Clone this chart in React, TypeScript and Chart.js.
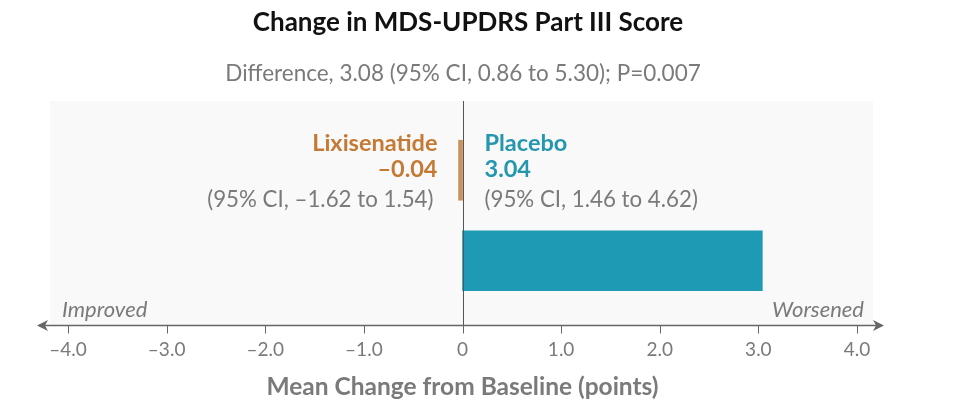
import React, { useEffect, useRef } from 'react';
import { Chart, registerables } from 'chart.js';

Chart.register(...registerables);

// ---- Data ----
const categories = ['Lixisenatide', 'Placebo'];
const meanChange = [-0.04, 3.04];
const ciLower = [-1.62, 1.46];
const ciUpper = [1.54, 4.62];
const tickValues = [-4, -3, -2, -1, 0, 1, 2, 3, 4];
const tickLabels = ['–4.0', '–3.0', '–2.0', '–1.0', '0', '1.0', '2.0', '3.0', '4.0'];
const differenceValue = 3.08;
const differenceCI = [0.86, 5.3];
const pValue = '0.007';

// ---- Styles ----
const FONT = 'Lato, "Open Sans", "DejaVu Sans", sans-serif';
const GRAY = '#7a7a7a';
const textColors = ['#c47a35', '#2496ae'];
const barColors = ['#c9925a', '#1f9ab5'];

const fmt = (v: number) => (v < 0 ? '–' : '') + Math.abs(v).toFixed(2);

const decorPlugin = {
  id: 'decor',
  beforeDraw(chart: any) {
    const { ctx, chartArea } = chart;
    ctx.save();
    ctx.fillStyle = '#f9f9f9';
    ctx.fillRect(chartArea.left - 18, chartArea.top - 24, chartArea.right - chartArea.left + 34, chartArea.bottom - chartArea.top + 43.5);
    ctx.restore();
  },
  afterDraw(chart: any) {
    const { ctx, chartArea, scales } = chart;
    const xs = scales.x;
    const ys = scales.y;
    const x0 = xs.getPixelForValue(0);
    const axisY = chartArea.bottom + 19.5;
    ctx.save();
    // zero line
    ctx.strokeStyle = '#555';
    ctx.lineWidth = 1;
    ctx.beginPath();
    ctx.moveTo(Math.round(x0) + 0.5, chartArea.top - 24);
    ctx.lineTo(Math.round(x0) + 0.5, axisY);
    ctx.stroke();
    // axis line with arrows
    const leftTip = chartArea.left - 31;
    const rightTip = chartArea.right + 27;
    ctx.strokeStyle = '#666';
    ctx.fillStyle = '#666';
    ctx.lineWidth = 1.5;
    ctx.beginPath();
    ctx.moveTo(leftTip + 4, axisY);
    ctx.lineTo(rightTip - 4, axisY);
    ctx.stroke();
    ctx.beginPath();
    ctx.moveTo(leftTip, axisY);
    ctx.lineTo(leftTip + 11, axisY - 5.5);
    ctx.lineTo(leftTip + 8, axisY);
    ctx.lineTo(leftTip + 11, axisY + 5.5);
    ctx.closePath();
    ctx.fill();
    ctx.beginPath();
    ctx.moveTo(rightTip, axisY);
    ctx.lineTo(rightTip - 11, axisY - 5.5);
    ctx.lineTo(rightTip - 8, axisY);
    ctx.lineTo(rightTip - 11, axisY + 5.5);
    ctx.closePath();
    ctx.fill();
    // tick marks
    ctx.lineWidth = 1;
    tickValues.forEach((v) => {
      const px = Math.round(xs.getPixelForValue(v)) + 0.5;
      ctx.beginPath();
      ctx.moveTo(px, axisY);
      ctx.lineTo(px, axisY + 8);
      ctx.stroke();
    });

    // Title and subtitle
    const cx = chart.width / 2 - 17;
    ctx.textAlign = 'center';
    ctx.textBaseline = 'middle';
    ctx.fillStyle = '#111';
    ctx.font = `bold 26px ${FONT}`;
    ctx.fillText('Change in MDS-UPDRS Part III Score', cx + 2, 15);
    ctx.fillStyle = GRAY;
    ctx.font = `22.5px ${FONT}`;
    ctx.fillText(
      `Difference, ${differenceValue.toFixed(2)} (95% CI, ${fmt(differenceCI[0])} to ${fmt(differenceCI[1])}); P=${pValue}`,
      cx - 3,
      66
    );

    // Group annotations
    const yRef = ys.getPixelForValue(0);
    categories.forEach((cat, i) => {
      const left = meanChange[i] < 0;
      const tx = left ? x0 - 25 : x0 + 22;
      ctx.textAlign = left ? 'right' : 'left';
      ctx.fillStyle = textColors[i];
      ctx.font = `bold 23.5px ${FONT}`;
      ctx.fillText(cat, tx, yRef - 27);
      ctx.fillText(fmt(meanChange[i]), tx, yRef - 1);
      ctx.fillStyle = GRAY;
      ctx.font = `22.3px ${FONT}`;
      ctx.fillText(`(95% CI, ${fmt(ciLower[i])} to ${fmt(ciUpper[i])})`, left ? tx - 4 : tx, yRef + 30);
    });

    // Improved / Worsened
    ctx.fillStyle = GRAY;
    ctx.font = `italic 22px ${FONT}`;
    ctx.textAlign = 'left';
    ctx.fillText('Improved', chartArea.left - 6, axisY - 16);
    ctx.textAlign = 'right';
    ctx.fillText('Worsened', chartArea.right + 7, axisY - 16);
    ctx.restore();
  },
};

export default function App() {
  const ref = useRef<HTMLCanvasElement | null>(null);
  useEffect(() => {
    if (!ref.current) return;
    const chart = new Chart(ref.current, {
      type: 'bar',
      data: {
        labels: categories,
        datasets: [
          {
            data: meanChange,
            backgroundColor: barColors,
            borderWidth: 0,
            barThickness: 60,
          },
        ],
      },
      options: {
        indexAxis: 'y',
        animation: false,
        responsive: true,
        maintainAspectRatio: false,
        layout: { padding: { top: 117, left: 60, right: 101, bottom: 0 } },
        plugins: {
          legend: { display: false },
          tooltip: { enabled: false },
          title: { display: false },
        },
        scales: {
          x: {
            type: 'linear',
            min: -4,
            max: 4,
            border: { display: false },
            grid: { display: false, drawTicks: false },
            afterBuildTicks: (s: any) => {
              s.ticks = tickValues.map((v) => ({ value: v }));
            },
            afterFit: (s: any) => {
              s.height = 99;
            },
            ticks: {
              padding: 32,
              color: GRAY,
              font: { size: 19, family: FONT },
              callback: (v: any) => {
                const i = tickValues.indexOf(Number(v));
                return i >= 0 ? tickLabels[i] : '';
              },
            },
            title: {
              display: true,
              text: 'Mean Change from Baseline (points)',
              color: GRAY,
              font: { size: 24.5, weight: 'bold', family: FONT },
              padding: { top: 0, bottom: 3 },
            },
          },
          y: { type: 'category', display: false, offset: true },
        },
      },
      plugins: [decorPlugin],
    } as any);
    return () => chart.destroy();
  }, []);
  return (
    <div style={{ position: 'relative', width: 950, height: 397 }}>
      <canvas ref={ref} />
    </div>
  );
}
